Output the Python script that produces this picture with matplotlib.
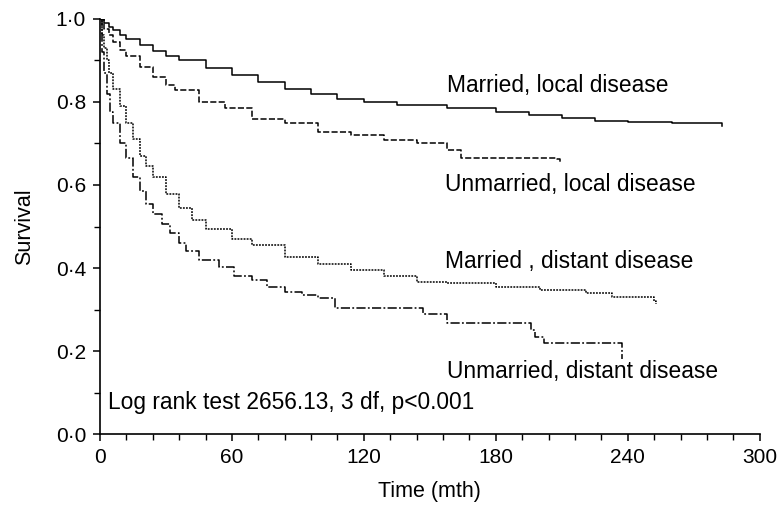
import matplotlib
matplotlib.use("Agg")
import matplotlib.pyplot as plt
from matplotlib.ticker import FuncFormatter, MultipleLocator

plt.rcParams['font.family'] = ['Liberation Sans', 'DejaVu Sans']

# Kaplan-Meier curves (time in months, survival)
t_mar_local = [0, 2, 4, 6, 9, 12, 18, 24, 30, 36, 48, 60, 72, 84, 96, 108, 120, 135, 158,
               180, 195, 210, 225, 240, 260, 282, 283]
s_mar_local = [1.0, 0.99, 0.98, 0.972, 0.962, 0.952, 0.937, 0.923, 0.91, 0.9, 0.882, 0.865,
               0.848, 0.832, 0.82, 0.808, 0.8, 0.793, 0.786, 0.775, 0.769, 0.762, 0.755, 0.752,
               0.75, 0.749, 0.741]

t_unm_local = [0, 2, 4, 6, 9, 12, 18, 24, 30, 34, 45, 57, 69, 84, 99, 114, 129, 144, 150,
               158, 164, 208, 209]
s_unm_local = [1.0, 0.975, 0.96, 0.945, 0.925, 0.91, 0.885, 0.86, 0.84, 0.829, 0.8, 0.785,
               0.76, 0.749, 0.728, 0.72, 0.708, 0.7, 0.7, 0.685, 0.665, 0.663, 0.655]

t_mar_dist = [0, 1, 2, 3, 4, 6, 9, 12, 15, 18, 21, 24, 30, 36, 42, 48, 60, 69, 84, 99, 114,
              129, 144, 158, 180, 200, 221, 233, 249, 252, 253]
s_mar_dist = [1.0, 0.96, 0.93, 0.9, 0.87, 0.83, 0.79, 0.75, 0.71, 0.67, 0.645, 0.62, 0.578,
              0.545, 0.515, 0.495, 0.47, 0.455, 0.427, 0.41, 0.395, 0.38, 0.366, 0.364, 0.355,
              0.347, 0.339, 0.331, 0.331, 0.32, 0.313]

t_unm_dist = [0, 1, 2, 3, 4.5, 6, 9, 12, 15, 18, 21, 24, 28, 32, 36, 39, 45, 54, 61, 69, 76,
              84, 92, 99, 107, 147, 158, 196, 198, 202, 237, 237.5]
s_unm_dist = [1.0, 0.92, 0.87, 0.82, 0.775, 0.75, 0.7, 0.665, 0.62, 0.585, 0.555, 0.53, 0.505,
              0.485, 0.46, 0.44, 0.42, 0.403, 0.38, 0.37, 0.355, 0.343, 0.335, 0.327, 0.303,
              0.29, 0.267, 0.25, 0.235, 0.22, 0.22, 0.18]

labels = ["Married, local disease", "Unmarried, local disease",
          "Married , distant disease", "Unmarried, distant disease"]
label_pos = [(158, 0.84), (157, 0.60), (157, 0.415), (158, 0.15)]

fig = plt.figure(figsize=(7.78, 5.09), dpi=100)
ax = fig.add_axes([0.1285, 0.147, 0.848, 0.816])

ax.plot(t_mar_local, s_mar_local, drawstyle='steps-post', color='black', lw=1.1, ls='-')
ax.plot(t_unm_local, s_unm_local, drawstyle='steps-post', color='black', lw=1.1, ls=(0, (4, 1.5)))
ax.plot(t_mar_dist, s_mar_dist, drawstyle='steps-post', color='black', lw=1.1, ls=(0, (1.2, 0.8)))
ax.plot(t_unm_dist, s_unm_dist, drawstyle='steps-post', color='black', lw=1.1,
        ls=(0, (6, 1.5, 1.2, 1.5)))

for lab, (x, y) in zip(labels, label_pos):
    ax.text(x, y, lab, fontsize=16.4, ha='left', va='center')

ax.text(3.6, 0.077, "Log rank test 2656.13, 3 df, p<0.001", fontsize=16.4, ha='left', va='center')

ax.set_xlim(0, 300)
ax.set_ylim(0, 1.0)
ax.xaxis.set_major_locator(MultipleLocator(60))
ax.xaxis.set_minor_locator(MultipleLocator(12))
ax.yaxis.set_major_locator(MultipleLocator(0.2))
ax.yaxis.set_minor_locator(MultipleLocator(0.1))
ax.yaxis.set_major_formatter(FuncFormatter(lambda v, p: f"{v:.1f}".replace('.', '\u00b7')))

ax.spines['top'].set_visible(False)
ax.spines['right'].set_visible(False)
ax.spines['left'].set_linewidth(1.2)
ax.spines['bottom'].set_linewidth(1.2)
ax.tick_params(which='major', length=5, width=1.1, labelsize=15, pad=5)
ax.tick_params(which='minor', length=4, width=1.0)

ax.set_xlabel("Time (mth)", fontsize=15.5, labelpad=10)
ax.set_ylabel("Survival", fontsize=15.5, labelpad=15)

fig.savefig("out.png", dpi=100)
